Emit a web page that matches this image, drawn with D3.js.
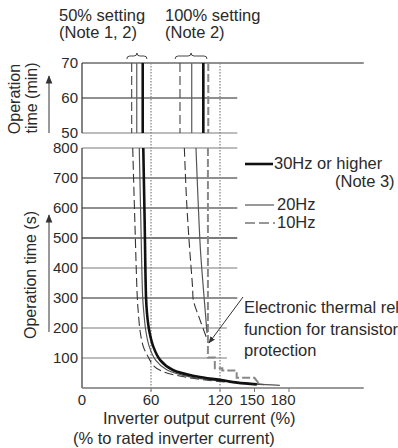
<!DOCTYPE html>
<meta charset="utf-8">
<html>
<head>
    <script src="https://d3js.org/d3.v7.min.js"></script>
    <style>
        body { margin: 0; background: #fff; }
        text { font-family: "Liberation Sans", Arial, sans-serif; fill: #2a2a2a; }
    </style>
</head>
<body>
<div id="chart"></div>
<script>
    // ---- data ----
    var pctTicks = [0, 60, 120, 150, 180];
    var secTicks = [100, 200, 300, 400, 500, 600, 700, 800];
    var minTicks = [50, 60, 70];

    // vertical lines in the minutes panel (% of rated current)
    var minThick = [52.8, 105.5];
    var minThin = [47.6, 95.4];
    var minDashed = [43.2, 85.2];
    var minRelay = [109.8];
    var dottedRefs = [60, 120];

    // curves in the seconds panel: [current %, seconds]
    var thick30Hz50 = [[53.3, 800], [54.5, 550], [55.7, 300], [56.5, 250], [58.5, 190], [62, 138],
        [68, 93], [79, 60], [100, 38], [120, 27], [135, 18], [152, 12]];
    var thin20Hz50 = [[49.8, 800], [51.2, 550], [52.8, 300], [53.8, 250], [55.5, 190], [58.5, 138],
        [64, 93], [74, 60], [95, 36], [120, 24], [150, 14], [172, 9]];
    var dash10Hz50 = [[44.1, 800], [46, 550], [48.1, 300], [49, 250], [50.5, 190], [53.3, 138],
        [57.5, 104], [62, 75], [70, 55], [85, 40], [105, 28], [130, 18], [160, 11]];
    var thin20Hz100 = [[99.1, 800], [101, 620], [103, 460], [105.5, 333], [107.5, 240], [108.7, 183]];
    var dash10Hz100 = [[89, 800], [91, 620], [93.5, 470], [96.2, 333], [96.8, 293], [102.6, 227], [109, 160]];
    var relayStep = [[109.5, 800], [109.5, 102], [115.5, 102], [115.5, 66], [122, 66], [122, 58],
        [134.5, 58], [134.5, 34], [150, 34], [154, 14]];

    var noteBraces = [[39, 56.5], [81, 108.7]];

    // ---- svg ----
    var width = 398, height = 448;
    var svg = d3.select("#chart").append("svg")
        .attr("width", width)
        .attr("height", height);

    svg.append("rect").attr("width", width).attr("height", height).attr("fill", "#fff");

    var x = d3.scaleLinear().domain([0, 245]).range([82, 363.75]);
    var yMin = d3.scaleLinear().domain([50, 70]).range([133, 63]);
    var ySec = d3.scaleLinear().domain([0, 800]).range([388, 148]);

    var defs = svg.append("defs");
    defs.append("clipPath").attr("id", "secClip")
        .append("rect").attr("x", x(0)).attr("y", ySec(800))
        .attr("width", x(245) - x(0)).attr("height", ySec(0) - ySec(800));
    defs.append("marker").attr("id", "head")
        .attr("viewBox", "0 0 10 10").attr("refX", 9).attr("refY", 5)
        .attr("markerWidth", 7).attr("markerHeight", 7).attr("orient", "auto")
        .append("path").attr("d", "M0,1 L10,5 L0,9 z").attr("fill", "#333");

    var dark = function(d) { return [70, 60, 700, 600, 300].indexOf(d) >= 0 ? "#222" : "#7a7a7a"; };

    // ---- minutes panel ----
    var gMin = svg.append("g");
    gMin.selectAll("line.grid").data(minTicks).enter().append("line")
        .attr("x1", x(0))
        .attr("x2", function(d) { return d == 70 ? x(245) : x(135); })
        .attr("y1", function(d) { return yMin(d); })
        .attr("y2", function(d) { return yMin(d); })
        .attr("stroke", dark)
        .attr("stroke-width", 1.2);
    gMin.append("line")
        .attr("x1", x(0)).attr("x2", x(0))
        .attr("y1", yMin(70)).attr("y2", yMin(50))
        .attr("stroke", "#333").attr("stroke-width", 1.2);
    gMin.selectAll("text.tick").data(minTicks).enter().append("text")
        .attr("x", 78).attr("y", function(d) { return yMin(d); })
        .attr("dy", "0.36em")
        .attr("text-anchor", "end")
        .attr("font-size", "15px")
        .text(function(d) { return d; });

    function vlines(g, vals, stroke, sw, dash) {
        g.selectAll(null).data(vals).enter().append("line")
            .attr("x1", function(d) { return x(d); })
            .attr("x2", function(d) { return x(d); })
            .attr("y1", yMin(70)).attr("y2", yMin(50))
            .attr("stroke", stroke).attr("stroke-width", sw)
            .attr("stroke-dasharray", dash);
    }
    vlines(gMin, minDashed, "#444", 1.1, "9,4");
    vlines(gMin, minThin, "#666", 1.3, null);
    vlines(gMin, minThick, "#111", 2.6, null);
    vlines(gMin, minRelay, "#888", 2, "8,3");

    // ---- seconds panel ----
    var gSec = svg.append("g");
    gSec.selectAll("line.grid").data(secTicks).enter().append("line")
        .attr("x1", x(0))
        .attr("x2", function(d) { return d <= 200 ? x(126) : x(135); })
        .attr("y1", function(d) { return ySec(d); })
        .attr("y2", function(d) { return ySec(d); })
        .attr("stroke", dark)
        .attr("stroke-width", function(d) { return d == 500 ? 1.8 : 1.2; });
    gSec.append("line")
        .attr("x1", x(0)).attr("x2", x(0))
        .attr("y1", ySec(800)).attr("y2", ySec(0))
        .attr("stroke", "#333").attr("stroke-width", 1.2);
    gSec.append("line")
        .attr("x1", x(0)).attr("x2", x(245))
        .attr("y1", ySec(0)).attr("y2", ySec(0))
        .attr("stroke", "#777").attr("stroke-width", 1.5);
    gSec.selectAll("text.tick").data(secTicks).enter().append("text")
        .attr("x", 78).attr("y", function(d) { return ySec(d); })
        .attr("dy", "0.36em")
        .attr("text-anchor", "end")
        .attr("font-size", "15px")
        .text(function(d) { return d; });

    // x ticks
    var nudge = {150: -2.5, 180: -6};
    gSec.selectAll("line.xt").data(pctTicks.slice(1)).enter().append("line")
        .attr("x1", function(d) { return x(d); }).attr("x2", function(d) { return x(d); })
        .attr("y1", ySec(0)).attr("y2", ySec(0) + 4)
        .attr("stroke", "#777");
    gSec.selectAll("text.xt").data(pctTicks).enter().append("text")
        .attr("x", function(d) { return x(d) + (nudge[d] || 0); })
        .attr("y", 405)
        .attr("text-anchor", "middle")
        .attr("font-size", "15px")
        .text(function(d) { return d; });

    // dotted reference lines across both panels
    svg.selectAll("line.dot").data(dottedRefs).enter().append("line")
        .attr("x1", function(d) { return x(d); }).attr("x2", function(d) { return x(d); })
        .attr("y1", yMin(70)).attr("y2", ySec(0) + 3)
        .attr("stroke", "#888").attr("stroke-width", 1.3)
        .attr("stroke-dasharray", "1.5,1.5");

    // curves
    var line = d3.line()
        .x(function(d) { return x(d[0]); })
        .y(function(d) { return ySec(d[1]); })
        .curve(d3.curveCatmullRom.alpha(0.5));
    var step = d3.line()
        .x(function(d) { return x(d[0]); })
        .y(function(d) { return ySec(d[1]); });

    var gc = svg.append("g").attr("clip-path", "url(#secClip)");
    function curve(data, gen, stroke, sw, dash) {
        gc.append("path").datum(data)
            .attr("d", gen)
            .attr("fill", "none")
            .attr("stroke", stroke).attr("stroke-width", sw)
            .attr("stroke-dasharray", dash);
    }
    curve(relayStep, step, "#888", 2, "8,3");
    curve(dash10Hz100, line, "#333", 1.1, "9,4");
    curve(thin20Hz100, line, "#555", 1.2, null);
    curve(dash10Hz50, line, "#333", 1.1, "9,4");
    curve(thin20Hz50, line, "#555", 1.2, null);
    curve(thick30Hz50, line, "#111", 2.6, null);

    // braces above the minutes panel
    svg.selectAll("path.brace").data(noteBraces).enter().append("path")
        .attr("d", function(d) {
            var a = x(d[0]), b = x(d[1]), m = (a + b) / 2, y = 56;
            return "M" + a + "," + (y + 3) + " Q" + a + "," + y + " " + (a + 3) + "," + y +
                " L" + (m - 3) + "," + y + " Q" + m + "," + y + " " + m + "," + (y - 3) +
                " Q" + m + "," + y + " " + (m + 3) + "," + y +
                " L" + (b - 3) + "," + y + " Q" + b + "," + y + " " + b + "," + (y + 3);
        })
        .attr("fill", "none").attr("stroke", "#444").attr("stroke-width", 1);

    // headers
    function label(tx, ty, str, anchor) {
        svg.append("text").attr("x", tx).attr("y", ty)
            .attr("font-size", "16.5px")
            .attr("text-anchor", anchor || "start")
            .text(str);
    }
    label(59, 21, "50% setting");
    label(59, 38, "(Note 1, 2)");
    label(165, 21, "100% setting");
    label(165, 38, "(Note 2)");

    // y titles
    svg.append("text").attr("transform", "translate(19.5,99) rotate(-90)")
        .attr("text-anchor", "middle").attr("font-size", "16px").text("Operation");
    svg.append("text").attr("transform", "translate(37,98) rotate(-90)")
        .attr("text-anchor", "middle").attr("font-size", "16px").text("time (min)");
    svg.append("text").attr("transform", "translate(36,275) rotate(-90)")
        .attr("text-anchor", "middle").attr("font-size", "16px").text("Operation time (s)");
    svg.append("line").attr("x1", 49).attr("x2", 49).attr("y1", 133).attr("y2", 76)
        .attr("stroke", "#555").attr("stroke-width", 1.2).attr("marker-end", "url(#head)");
    svg.append("line").attr("x1", 49).attr("x2", 49).attr("y1", 332).attr("y2", 215)
        .attr("stroke", "#555").attr("stroke-width", 1.2).attr("marker-end", "url(#head)");

    // x titles
    label(103, 424, "Inverter output current (%)");
    label(73, 444, "(% to rated inverter current)");

    // legend
    svg.append("line").attr("x1", 245).attr("x2", 273).attr("y1", 164).attr("y2", 164)
        .attr("stroke", "#111").attr("stroke-width", 2.6);
    label(274, 169, "30Hz or higher");
    label(335, 187, "(Note 3)");
    svg.append("line").attr("x1", 245).attr("x2", 274).attr("y1", 205).attr("y2", 205)
        .attr("stroke", "#555").attr("stroke-width", 1.2);
    label(277, 210, "20Hz");
    svg.append("line").attr("x1", 245).attr("x2", 275).attr("y1", 223).attr("y2", 223)
        .attr("stroke", "#333").attr("stroke-width", 1.1).attr("stroke-dasharray", "10,4");
    label(277, 228, "10Hz");

    // annotation (runs past the right edge, as in the source)
    label(244, 313, "Electronic thermal relay");
    label(244, 335, "function for transistor");
    label(244, 356, "protection");
    svg.append("line").attr("x1", 243).attr("y1", 297).attr("x2", x(110.4)).attr("y2", ySec(150))
        .attr("stroke", "#333").attr("stroke-width", 1).attr("marker-end", "url(#head)");
</script>
</body>
</html>
